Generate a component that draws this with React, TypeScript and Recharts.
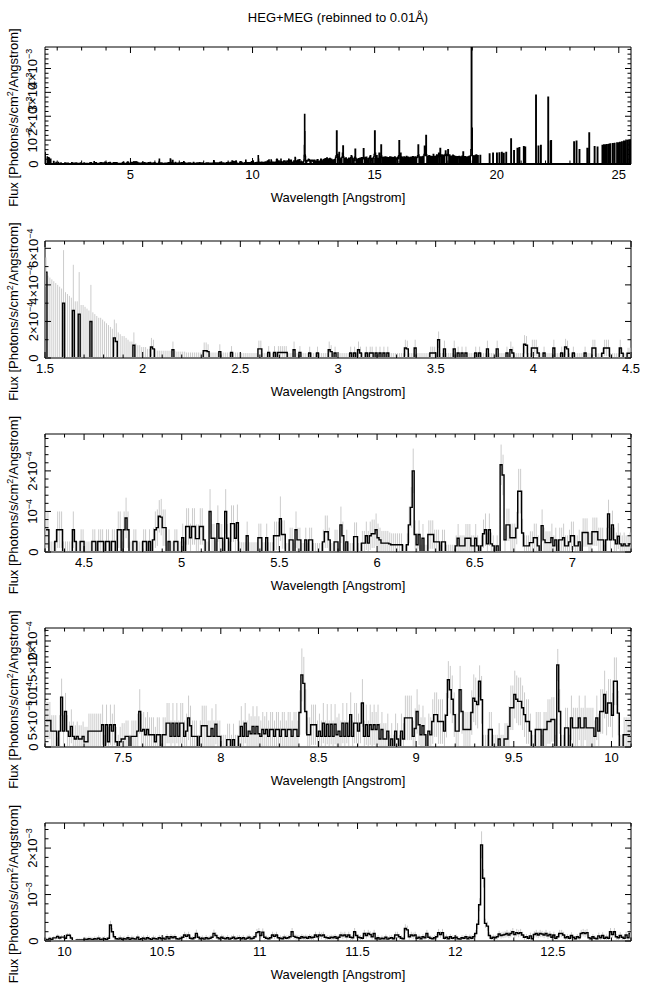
import React from 'react';
import { ComposedChart, Line, XAxis, YAxis, ErrorBar, ReferenceLine, ReferenceArea } from 'recharts';

const FONT = '"Liberation Sans", Arial, Helvetica, sans-serif';
const FS = 13;

// Flux in units of 1e-5 photons/s/cm^2/Angstrom, 0.01 A bins.
// 1.50 - 4.30 A
const fluxA = [
  47,0,0,0,0,0,0,0,0,30,0,0,0,0,26,0,0,24,0,0,
  0,0,0,20,0,0,0,0,0,0,0,0,0,0,0,11,9,0,0,0,
  0,0,0,0,0,7,0,0,0,0,0,0,0,0,6,5,0,0,0,0,
  0,0,0,0,0,4.5,0,0,0,0,0,0,0,0,0,0,0,0,0,0,
  0,4,4,3.5,0,0,0,0,0,3.5,0,0,0,0,0,3,0,0,0,0,
  0,0,0,0,0,0,0,0,0,5,5,0,0,0,3,0,0,3,0,3,
  3,3,3,3,0,0,0,4.5,0,0,3,0,0,0,0,2.7,0,0,0,2.7,
  0,0,0,0,0,4.5,3.5,0,2.7,0,0,0,0,0,0,0,2.7,0,2.7,0,
  4.5,2.7,0,0,2.7,0,2.7,2.7,0,2.7,0,2.7,0,2.7,0,2.7,0,0,0,0,
  0,0,0,0,5.5,5,0,0,0,5.5,0,0,0,0,0,0,0,2.7,2.7,2.7,
  0,10,0,0,5,0,0,0,0,5,0,2.7,0,2.7,0,2.7,0,0,0,0,
  2.7,0,2.7,0,0,0,5,0,0,0,0,5,0,0,0,0,2.7,0,4.5,2.7,
  0,0,0,0,0,7.5,7,0,0,5.5,5.5,5.5,2.7,0,0,2.7,0,0,0,0,
  5.5,0,0,0,2.7,0,6,5,0,0,2.7,0,0,0,0,0,2.7,0,0,0,
];
const errA = [
  8,45,44,43,42,41,40,39,38,29,36,35,34,33,25,31,31,23,29,29,
  28,27,26,20,25,24,23,22,22,21,20,19,18,17,16,10,10,14,13,12,
  12,11,10,9,9,7,8,7,7,6,6,6,5,5,5,5,5,4,4,4,
  4,4,4,4,4,4.5,4,3.5,3.5,3.5,3.5,3.5,3,3,3,3,3,3,3,3,
  3,4.5,4.5,4,3,3,3,3,3,4,3,3,3,3,3,3.5,3,3,3,3,
  2.7,2.7,2.7,2.7,2.7,2.7,2.7,2.7,2.7,4.5,4.5,2.7,2.7,2.7,3.5,2.7,2.7,3.5,2.7,3.5,
  3.5,3.5,3.5,3.5,2.7,2.7,2.7,4.5,2.7,2.7,3.5,2.7,2.7,2.7,2.7,3.5,2.7,2.7,2.7,3.5,
  2.7,2.7,2.7,2.7,2.7,4.5,3.5,2.7,3.5,2.7,2.7,2.7,2.7,2.7,2.7,2.7,3.5,2.7,3.5,2.7,
  4.5,3.5,2.7,2.7,3.5,2.7,3.5,3.5,2.7,3.5,2.7,3.5,2.7,3.5,2.7,3.5,2.7,2.7,2.7,2.7,
  2.7,2.7,2.7,2.7,4.5,4.5,2.7,2.7,2.7,4.5,2.7,2.7,2.7,2.7,2.7,2.7,2.7,3.5,3.5,3.5,
  2.7,4.5,2.7,2.7,4.5,2.7,2.7,2.7,2.7,4.5,2.7,3.5,2.7,3.5,2.7,3.5,2.7,2.7,2.7,2.7,
  3.5,2.7,3.5,2.7,2.7,2.7,4.5,2.7,2.7,2.7,2.7,4.5,2.7,2.7,2.7,2.7,3.5,2.7,4.5,3.5,
  2.7,2.7,2.7,2.7,2.7,5,5,2.7,2.7,4.5,4.5,4.5,3.5,2.7,2.7,3.5,2.7,2.7,2.7,2.7,
  4.5,2.7,2.7,2.7,3.5,2.7,4.5,4.5,2.7,2.7,3.5,2.7,2.7,2.7,2.7,2.7,3.5,2.7,2.7,2.7,
];

// 4.30 - 7.10 A
const fluxB = [
  5.5,5.5,0,0,0,2.6,5.5,5.5,5.5,0,0,0,0,0,5.5,2.6,0,0,2.6,2.6,
  0,0,0,0,2.6,2.6,0,2.6,2.6,2.6,0,2.6,2.6,0,2.6,2.6,0,5.5,5.5,0,
  5.5,8.4,5.5,0,0,2.6,2.6,0,0,0,2.6,2.6,0,2.6,0,3,5.5,6,8.8,8.6,
  6,6,0,2.6,0,0,2.6,2.6,0,0,3.5,0,6.3,6.3,3.5,6.3,6.3,3.3,3.3,6.3,
  6.3,3,0,0,10,3.4,3.4,0,7,3.4,3.4,0,10,3.4,0,7,7,3.4,7.2,0,
  0,0,0,4,0,0,0,0,0,3.5,3.5,0,0,3.5,0,0,0,4,4,4,
  8.2,4.3,4.3,0,0,3,3,0,5.5,3,3,0,0,3,0,3,3,0,0,0,
  0,0,2.5,5,5,3,0,0,2.5,2.5,0,6.7,4,0,2.5,0,0,0,3.8,3.8,
  0,0,2.2,2.2,4,2.2,4,4.5,4.5,5.5,3.5,3,2.2,2.2,2.2,2.2,2,1.8,1.8,1.8,
  1.8,1.8,1.8,0,0,1.8,6.7,11,20,4.3,1.8,4.3,0,3.4,0,0,4.3,4.3,4.3,2.5,
  2.5,2.5,0,2.5,2.5,0,0,0,0,0,1.5,3.4,1.5,1.5,1.5,3.4,3.4,3.4,1.5,1.5,
  3.4,1.5,0,1.5,4.5,5.5,2,5.5,2,1.5,0,1.5,0,21.5,19,3,6.7,6.7,3.5,3.5,
  3.5,5.9,15,15,4.7,1.5,1.5,1.5,2.3,2.3,3.5,3.5,1.5,0,6.5,3,2.3,2.3,2.3,3.5,
  1.5,3,0,3,3,3.5,1.5,1.5,2.5,4,4,1.5,1.5,2.5,0,4.8,4.8,4.8,2,2,
];
const errB = [
  4.5,4.5,2.6,2.6,2.6,3,4.5,4.5,4.5,2.6,2.6,2.6,2.6,2.6,4.5,3,2.6,2.6,3,3,
  2.6,2.6,2.6,2.6,3,3,2.6,3,3,3,2.6,3,3,2.6,3,3,2.6,4.5,4.5,2.6,
  4.5,5,4.5,2.6,2.6,3,3,2.6,2.6,2.6,3,3,2.6,3,2.6,3,4.5,4.5,4,4.5,
  4.5,4.5,2.6,3,2.6,2.6,3,3,2.6,2.6,3.5,2.6,4.5,4.5,3.5,4.5,4.5,3.5,3.5,4.5,
  4.5,3.5,2.6,2.6,5.5,3.5,3.5,2.6,4.5,3.5,3.5,2.6,5.5,3.5,2.6,4.5,4.5,3.5,4.5,2.6,
  2.4,2.4,2.4,3.5,2.4,2.4,2.4,2.4,2.4,3.5,3.5,2.4,2.4,3.5,2.4,2.4,2.4,3.5,3.5,3.5,
  5.5,3.5,3.5,2.2,2.2,3,3,2.2,4.5,3,3,2.2,2.2,3,2.2,3,3,2.2,2.2,2.2,
  2.2,2.2,3,4,4,3,2.2,2.2,3,3,2.2,4.5,3.5,2.2,3,2.2,2.2,2.2,3.5,3.5,
  2.2,2.2,3,3,3.5,3,3.5,3.5,3.5,4,3.5,3,3,3,3,3,2.8,2.8,2.8,2.8,
  2.8,2.8,2.8,1.8,1.8,2.8,4.5,5,5.5,3.5,2.8,3.5,1.8,3.5,1.8,1.8,3.5,3.5,3.5,3,
  3,3,1.8,3,3,1.8,1.8,1.8,1.8,1.8,2.6,3.5,2.6,2.6,2.6,3.5,3.5,3.5,2.6,2.6,
  3.5,2.6,1.8,2.6,3.5,4,2.8,4,2.8,2.6,1.8,2.6,1.8,5,5,3,4,4,3.5,3.5,
  3.5,4,5.5,5.5,3.5,2.6,2.6,2.6,2.8,2.8,3.5,3.5,2.6,1.8,4,3,2.8,2.8,2.8,3.5,
  2.6,3,1.8,3,3,3.5,2.6,2.6,3,3.5,3.5,2.6,2.6,3,1.8,3.5,3.5,3.5,2.8,2.8,
];

// 7.10 - 9.90 A
const fluxC = [
  5,5,5,3,3,3,0,3,9.4,3,6.7,3,2,3.9,2,1.5,2,1.5,1.5,2,
  1,1,3,3,3,3,3,3,3,4.2,0,4.2,1,4.2,3,4.2,1,0,1,1.5,
  1.5,2,2,0,2,2,2,3,6.7,3,3.3,2.3,3.3,2.3,2.3,2.3,1,2.3,2.3,0,
  2.3,2.3,4.5,4.5,2,4.5,2,4.5,2,4.5,4.5,2,3,5.5,4,2,2,2,0,2,
  4,4,4,2,2,3.5,2,4.3,2,2,0,0,0,1.4,1.4,0,1.4,0,0,2,
  3.9,2,4.5,2,3,2.5,3.9,2.5,3.9,2.5,2,3.3,2.5,3.3,2,3.3,3.3,2,3.3,3.3,
  2,3.3,3.3,2,3.3,3.3,2,3.3,3.3,2,6.5,13.6,12,6.7,2.3,2.3,4.2,4.2,4.2,2,
  3,2,4.5,2,4.3,2,4.3,2,4.3,2.3,3,2,4.5,2,4.5,2,6.1,2,4.5,4.5,
  3,4.5,8.3,2,4.2,2,4.2,3.3,4.2,3.3,4.2,1.5,3.3,1.5,1.5,3,0,1.5,0,3,
  1.5,0,3,1.5,5.5,5.5,5.5,5.5,2,3.5,6.7,4.2,2.3,4,2.3,0,3,2.3,4.8,6.1,
  6.1,4.8,4.8,4.8,3,6,12.7,10.8,9,6.1,3,3,10.8,6.7,3.3,3.3,3.3,3.3,6.5,9.2,
  8.6,8,12.4,8.9,0,0,0,3.3,3.3,0,0,0,1.5,0,0,1.5,1.5,3.9,7.4,7.4,
  9.9,9,8.6,8.6,7.4,6.1,4.8,4.8,3,0,0,3.3,3.3,3.3,0,3.3,3.3,4.8,4.8,5.2,
  5.2,0,15.5,6.7,0,0,3.6,3.6,0,5.5,3.6,3.6,3.6,5.5,3.6,3.6,5.5,3.6,3.6,3.6,
];
const errC = [
  3.5,3.5,3.5,3,3,3,1.8,3,3.5,3,3.5,3,2.8,3.2,2.8,2.6,2.8,2.6,2.6,2.8,
  2.8,2.8,3.3,3.3,3.3,3.3,3.3,3.3,3.3,3.8,2.3,3.8,2.8,3.8,3.3,3.8,2.8,2.3,2.8,3,
  3,3,3,2.3,3,3,3,3.3,4.2,3.3,3.3,3.3,3.3,3.3,3.3,3.3,2.8,3.3,3.3,2.3,
  3.3,3.3,3.8,3.8,3,3.8,3,3.8,3,3.8,3.8,3,3.3,4.2,3.8,3,3,3,2.3,3,
  3.8,3.8,3.8,3,3,3.8,3,3.8,3,3,2.3,2.3,2.3,3,3,2.3,3,2.3,2.3,3,
  3.8,3,3.8,3,3.3,3.3,3.8,3.3,3.8,3.3,3,3.3,3.3,3.3,3,3.3,3.3,3,3.3,3.3,
  3,3.3,3.3,3,3.3,3.3,3,3.3,3.3,3,4.2,5,5,4.2,3.3,3.3,3.8,3.8,3.8,3,
  3.3,3,3.8,3,3.8,3,3.8,3,3.8,3.3,3.3,3,3.8,3,3.8,3,4.2,3,3.8,3.8,
  3.3,3.8,4.5,3,3.8,3,3.8,3.3,3.8,3.3,3.8,3,3.3,3,3,3.3,2.3,3,2.3,3.3,
  3,2.3,3.3,3,4.2,4.2,4.2,4.2,3,3.8,4.2,3.8,3.3,3.8,3.3,2.3,3.3,3.3,4.2,4.2,
  4.2,4.2,4.2,4.2,3.3,4.2,3.5,4.5,4.5,4.2,3.3,3.3,4.5,4.2,3.3,3.3,3.3,3.3,4.2,4.5,
  4.5,4.5,3,4.5,2.3,2.3,2.3,3.3,3.3,2.3,2.3,2.3,3,2.3,2.3,3,3,3.8,4.2,4.2,
  4.5,4.5,4.5,4.5,4.2,4.2,4.2,4.2,3.3,2.3,2.3,3.3,3.3,3.3,2.3,3.3,3.3,4.2,4.2,4.2,
  4.2,2.3,3,4.2,2.3,2.3,3.8,3.8,2.3,4.2,3.8,3.8,3.8,4.2,3.8,3.8,4.2,3.8,3.8,3.8,
];

// 9.90 - 12.90 A
const fluxD = [
  3.6,2,5.5,3,6.7,6.7,9.9,6.4,8.3,8.3,6,12.4,12.4,6.4,0,0,2.3,2.3,2.3,2.3,
  4,3,5,4,3,5,4,6,3,4,5,3,6,34.5,20,9,5,4,6,3,
  5,4,7,3,6,5,4,8,3,5,6,4,7,5,3,6,5,4,7,5,
  6,4,9,5,9,7,9,5,4,6,8,13,10,13,6,5,7,16.5,8,5,
  6,4,7,5,6,8,16.5,12,7,5,8,6,5,7,4,6,8,5,6,7,
  5,7,4,6,8,5,6,9,18,20,12,19,8,6,5,7,13,10,13,7,
  6,5,8,6,7,9,20,10,8,7,6,9,7,8,6,9,7,8,13,9,
  13,11,13,8,7,6,8,7,9,6,8,13,11,13,9,13,8,7,20,12,
  8,7,6,16,12,16,14,9,16,5,7,4,6,5,8,4,6,7,5,13,
  13,9,6,5,27,24,9,13,11,13,6,8,5,9,7,16,8,6,5,7,
  9,18,14,18,6,8,5,9,6,7,8,5,4,7,6,9,5,8,6,9,
  16,36,78,207,135,38,32,12,6,8,7,9,15,12,13,14,16,13,16,20,
  14,18,16,18,13,8,9,6,11,5,14,16,13,16,15,13,16,11,14,8,
  13,6,9,16,16,13,7,9,6,12,8,5,9,7,16,18,16,18,7,5,
  9,6,5,11,7,12,6,8,6,20,14,20,9,7,12,8,6,13,7,16,
];
const errD = [
  3.8,3,4.2,3.3,4.2,4.2,4.5,4.2,4.5,4.5,4.2,4.5,4.5,4.2,2.3,2.3,3.3,3.3,3.3,3.3,
  5,5,5,5,5,5,5,6,5,5,5,5,6,9,8,6,5,5,6,5,
  5,5,6,5,6,5,5,6,5,5,6,5,6,5,5,6,5,5,6,5,
  6,5,6,5,6,6,6,5,5,6,6,7,6,7,6,5,6,8,6,5,
  6,5,6,5,6,6,8,7,6,5,6,6,5,6,5,6,6,5,6,6,
  5,6,5,6,6,5,6,6,8,8,7,8,6,6,5,6,7,6,7,6,
  6,5,6,6,6,6,8,6,6,6,6,6,6,6,6,6,6,6,7,6,
  7,7,7,6,6,6,6,6,6,6,6,7,7,7,6,7,6,6,8,7,
  6,6,6,8,7,8,7,6,8,5,6,5,6,5,6,5,6,6,5,7,
  7,6,6,5,9,9,6,7,7,7,6,6,5,6,6,8,6,6,5,6,
  6,8,7,8,6,6,5,6,6,6,6,5,5,6,6,6,5,6,6,6,
  8,10,14,29,20,10,10,7,6,6,6,6,7,7,7,7,8,7,8,8,
  7,8,8,8,7,6,6,6,7,5,7,8,7,8,7,7,8,7,7,6,
  7,6,6,8,8,7,6,6,6,7,6,5,6,6,8,8,8,8,6,5,
  6,6,5,7,6,7,6,6,6,8,7,8,6,6,7,6,6,7,6,8,
];

// 12.90 - 25.50 A, overview only (0.02 A steps)
const longFlux = [
  18,0,20,6,22,0,17,25,0,19,8,21,0,23,11,0,20,14,0,13,17,0,15,19,0,28,35,138,40,0,18,30,48,0,20,8,24,0,28,45,76,30,0,16,23,0,25,9,0,17,
  20,0,24,8,22,0,26,35,30,0,23,9,0,16,28,62,24,0,20,7,0,19,22,0,17,24,0,14,26,0,22,25,64,23,0,16,27,0,28,10,0,15,22,0,26,30,35,0,17,23,
  22,0,25,30,40,138,45,0,20,35,0,19,23,0,45,30,0,27,80,33,0,26,10,0,29,22,0,30,25,0,27,8,0,26,18,0,30,22,0,28,24,0,26,12,0,27,30,0,25,19,
  24,0,28,22,35,98,40,0,45,30,0,28,21,0,23,30,0,22,27,0,32,26,0,28,10,0,22,27,0,20,29,0,26,31,0,28,25,0,30,26,0,27,29,35,80,38,0,24,30,0,
  26,30,0,28,32,0,40,75,45,35,120,38,0,26,32,0,35,30,0,33,29,0,31,28,0,40,30,0,32,29,0,33,38,0,35,30,45,0,33,65,36,0,38,34,0,37,33,0,35,40,
  55,38,0,40,36,60,35,0,38,30,0,33,29,0,31,37,0,34,30,0,32,27,0,29,31,0,30,26,32,0,29,30,0,28,33,0,50,30,0,0,31,0,28,0,0,30,0,0,32,0,
  0,35,60,530,150,35,0,0,34,0,0,36,0,38,0,0,35,0,0,0,0,36,0,0,0,0,0,0,0,0,0,0,0,0,0,0,0,0,0,0,42,0,0,0,0,0,0,45,0,0,
  0,0,0,0,0,45,0,0,0,0,46,0,0,0,0,48,0,0,0,44,0,0,0,0,48,0,0,0,0,0,0,0,0,0,105,0,0,0,0,0,56,0,0,0,0,0,0,65,0,0,
  0,68,0,0,0,0,0,0,0,0,72,0,0,70,0,0,0,0,0,0,0,0,0,0,0,0,0,0,0,0,0,0,0,0,0,288,0,0,0,0,75,0,0,0,0,78,0,0,0,0,
  0,0,0,0,0,0,0,0,0,0,280,0,0,0,0,95,98,0,0,0,0,0,0,0,0,0,0,0,0,0,0,0,0,0,0,0,0,0,0,0,0,0,0,0,0,0,0,0,0,0,
  0,0,0,0,0,0,0,0,0,0,0,0,0,92,0,0,0,0,95,0,0,0,0,0,60,0,0,0,0,0,0,0,0,0,0,0,0,0,0,0,65,0,0,0,130,0,0,0,0,0,
  0,0,0,0,0,72,0,0,0,0,0,70,0,0,0,0,0,0,0,0,0,78,0,0,80,0,0,80,0,0,81,0,0,0,82,0,0,84,0,0,0,0,85,0,0,0,86,0,0,0,
  0,88,0,0,88,0,0,90,0,0,0,92,0,0,0,95,0,0,96,0,0,0,98,0,0,0,100,0,0,102,
];

// tick labels
const xLabels1 = [5, 10, 15, 20, 25];
const xLabels2 = [1.5, 2, 2.5, 3, 3.5, 4, 4.5];
const xLabels3 = [4.5, 5, 5.5, 6, 6.5, 7];
const xLabels4 = [7.5, 8, 8.5, 9, 9.5, 10];
const xLabels5 = [10, 10.5, 11, 11.5, 12, 12.5];

type Lab = [number, string];
const yLabels1: Lab[] = [[0, '0'], [100, '10^−3'], [200, '2×10^−3'], [300, '3×10^−3'], [400, '4×10^−3']];
const yLabels2: Lab[] = [[0, '0'], [20, '2×10^−4'], [40, '4×10^−4'], [60, '6×10^−4']];
const yLabels3: Lab[] = [[0, '0'], [10, '10^−4'], [20, '2×10^−4']];
const yLabels4: Lab[] = [[0, '0'], [5, '5×10^−5'], [10, '10^−4'], [15, '1.5×10^−4'], [20, '2×10^−4']];
const yLabels5: Lab[] = [[0, '0'], [100, '10^−3'], [200, '2×10^−3']];

const PW = 586; // plot width

const fineFlux = [...fluxA, ...fluxB, ...fluxC, ...fluxD];
const fineErr = [...errA, ...errB, ...errC, ...errD];
const fine = fineFlux.map((v, i) => ({
  x: Math.round((1.505 + i * 0.01) * 1000) / 1000,
  y: v,
  e: [Math.min(v, fineErr[i]), fineErr[i]],
}));
const coarse = longFlux.map((v, i) => ({
  x: Math.round((12.91 + i * 0.02) * 1000) / 1000,
  y: v,
  e: [0, 0],
}));

const inRange = (lo: number, hi: number) => fine.filter((d) => d.x > lo && d.x < hi);

const panels = [
  { lo: 1.5, hi: 25.5, ymax: 490, top: 47, h: 117, xStep: 1, yStep: 20, xLabels: xLabels1, yLabels: yLabels1, data: [...fine, ...coarse], errors: false, zero: '#000' },
  { lo: 1.5, hi: 4.5, ymax: 64, top: 241, h: 117, xStep: 0.1, yStep: 10, xLabels: xLabels2, yLabels: yLabels2, data: inRange(1.5, 4.5), errors: true, zero: '#7a7a7a' },
  { lo: 4.3, hi: 7.3, ymax: 29.1, top: 434, h: 118, xStep: 0.1, yStep: 2, xLabels: xLabels3, yLabels: yLabels3, data: inRange(4.3, 7.3), errors: true, zero: '#7a7a7a' },
  { lo: 7.1, hi: 10.1, ymax: 22.45, top: 628, h: 119, xStep: 0.1, yStep: 1, xLabels: xLabels4, yLabels: yLabels4, data: inRange(7.1, 10.1), errors: true, zero: '#7a7a7a' },
  { lo: 9.9, hi: 12.9, ymax: 254, top: 823, h: 118, xStep: 0.1, yStep: 20, xLabels: xLabels5, yLabels: yLabels5, data: inRange(9.9, 12.9), errors: true, zero: '#7a7a7a' },
];

const stepTicks = (lo: number, hi: number, step: number) => {
  const out: number[] = [];
  for (let k = Math.ceil(lo / step - 1e-6); k * step <= hi + 1e-6; k++) out.push(Math.round(k * step * 1000) / 1000);
  return out;
};

const Sup = ({ s }: { s: string }) => {
  const [m, e] = s.split('^');
  return (
    <>
      {m}
      {e && <tspan dy={-5} fontSize={9}>{e}</tspan>}
    </>
  );
};

const XTick = (props: any) => {
  const { x, y, payload, h, labels } = props;
  const v = payload.value;
  const major = labels.some((l: number) => Math.abs(l - v) < 1e-6);
  const len = major ? 6 : 3.5;
  return (
    <g>
      <line x1={x} x2={x} y1={y} y2={y - len} stroke="#000" />
      <line x1={x} x2={x} y1={y - h} y2={y - h + len} stroke="#000" />
      {major && (
        <text x={x} y={y + 15} textAnchor="middle" fontSize={FS} fontFamily={FONT} fill="#000">
          {String(v)}
        </text>
      )}
    </g>
  );
};

const YTick = (props: any) => {
  const { x, y, payload, labels } = props;
  const lab = labels.find((l: Lab) => Math.abs(l[0] - payload.value) < 1e-6);
  const len = lab ? 6 : 3.5;
  const bx = x - 7.5;
  return (
    <g>
      <line x1={x} x2={x + len} y1={y} y2={y} stroke="#000" />
      <line x1={x + PW} x2={x + PW - len} y1={y} y2={y} stroke="#000" />
      {lab && (
        <text x={bx} y={y} transform={`rotate(-90 ${bx} ${y})`} textAnchor="middle" fontSize={FS} fontFamily={FONT} fill="#000">
          <Sup s={lab[1]} />
        </text>
      )}
    </g>
  );
};

function Panel({ p }: { p: any }) {
  return (
    <div style={{ position: 'absolute', left: 0, top: p.top - 30 }}>
      <ComposedChart width={650} height={194} data={p.data} margin={{ top: 30, right: 19, left: 5, bottom: 134 - p.h }}>
        <XAxis
          dataKey="x"
          type="number"
          domain={[p.lo, p.hi]}
          allowDataOverflow
          ticks={stepTicks(p.lo, p.hi, p.xStep)}
          interval={0}
          height={30}
          tickSize={0}
          tickMargin={0}
          axisLine={false}
          tickLine={false}
          tick={(t: any) => <XTick {...t} h={p.h} labels={p.xLabels} />}
        />
        <YAxis
          type="number"
          domain={[0, p.ymax]}
          allowDataOverflow
          ticks={stepTicks(0, p.ymax, p.yStep)}
          interval={0}
          width={40}
          tickSize={0}
          tickMargin={0}
          axisLine={false}
          tickLine={false}
          tick={(t: any) => <YTick {...t} labels={p.yLabels} />}
        />
        <ReferenceArea x1={p.lo} x2={p.hi} y1={0} y2={p.ymax} fill="none" stroke="#000" strokeWidth={1} />
        {p.errors && (
          <Line dataKey="y" type="step" stroke="none" dot={false} activeDot={false} isAnimationActive={false}>
            <ErrorBar dataKey="e" direction="y" width={0} stroke="#cccccc" strokeWidth={1} />
          </Line>
        )}
        <Line dataKey="y" type="step" stroke="#000" strokeWidth={1.4} dot={false} activeDot={false} isAnimationActive={false} />
        <ReferenceLine y={0} stroke={p.zero} strokeWidth={2} />
      </ComposedChart>
    </div>
  );
}

export default function App() {
  return (
    <div style={{ position: 'relative', width: 650, height: 991, background: '#fff' }}>
      <style>{'body{margin:0}'}</style>
      {panels.map((p, i) => (
        <Panel key={i} p={p} />
      ))}
      <svg width={650} height={991} style={{ position: 'absolute', left: 0, top: 0, pointerEvents: 'none' }}>
        <text x={338} y={22} textAnchor="middle" fontSize={FS} fontFamily={FONT} fill="#000">
          HEG+MEG (rebinned to 0.01Å)
        </text>
        {panels.map((p, i) => {
          const cy = p.top + p.h / 2 + 12;
          return (
            <g key={i}>
              <text x={338} y={p.top + p.h + 38} textAnchor="middle" fontSize={FS} fontFamily={FONT} fill="#000">
                Wavelength [Angstrom]
              </text>
              <text x={18} y={cy} transform={`rotate(-90 18 ${cy})`} textAnchor="middle" fontSize={FS} fontFamily={FONT} fill="#000">
                Flux [Photons/s/cm<tspan dy={-5} fontSize={9}>2</tspan>
                <tspan dy={5}>/Angstrom]</tspan>
              </text>
            </g>
          );
        })}
      </svg>
    </div>
  );
}
